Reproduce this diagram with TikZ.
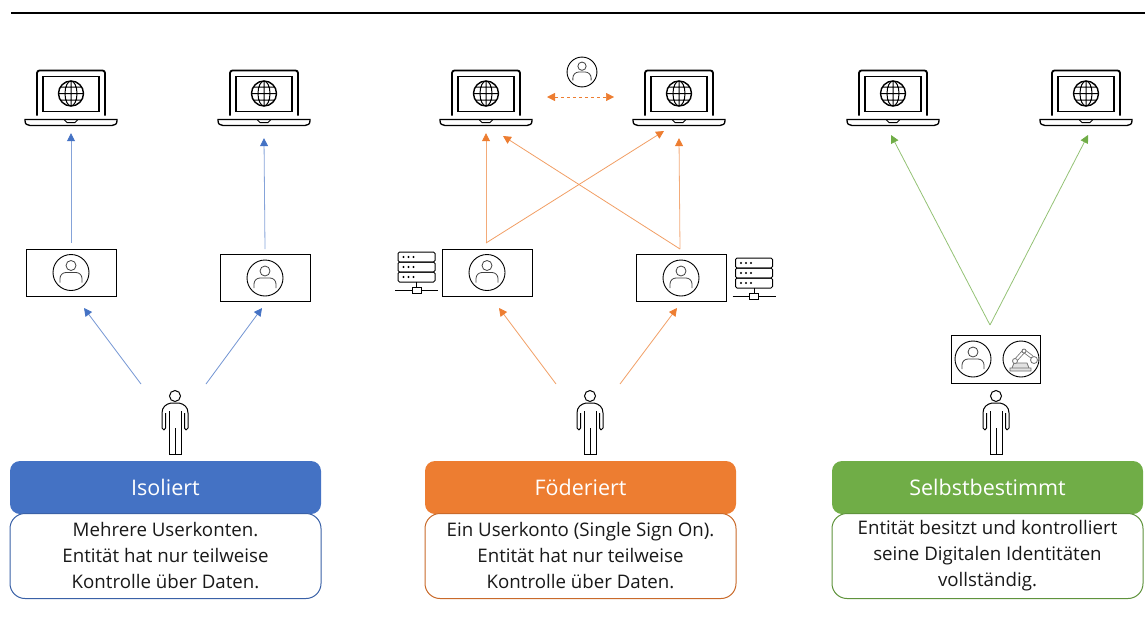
\documentclass[tikz,border=0pt]{standalone}
\usepackage{fontspec}
\setmainfont{Open Sans}
\usetikzlibrary{arrows.meta}
\definecolor{isoblue}{HTML}{4472C4}
\definecolor{fedorange}{HTML}{ED7D31}
\definecolor{ssigreen}{HTML}{70AD47}
\definecolor{icongray}{HTML}{404040}
\tikzset{
    conn/.style={#1!75, line width=0.8pt, -{Triangle[length=8pt,width=8pt,color=#1]}},
    connpale/.style={#1!65, line width=0.8pt, -{Triangle[length=8pt,width=8pt,color=#1]}},
    userbox/.style={draw, line width=0.9pt, minimum width=90pt, minimum height=47pt, inner sep=0pt},
    laptopspot/.style={minimum width=92pt, minimum height=55pt, inner sep=0pt},
    headbox/.style={rounded corners=10pt, minimum width=311pt, minimum height=53pt, inner sep=0pt,
        text=white, font=\fontsize{21.5}{24}\selectfont},
    infobox/.style={draw, rounded corners=15pt, fill=white, line width=1pt, minimum width=311pt, minimum height=85pt,
        inner sep=0pt, align=center, text=black!90, font=\fontsize{18.7}{26}\selectfont},
    laptop/.pic={
        \draw[line width=1.8pt, rounded corners=2.5pt] (-34,18) -- (-34,-27) -- (34,-27) -- (34,18);
        \draw[line width=1.7pt] (-28,-21) rectangle (28,14);
        \draw[line width=1.4pt] (0,-4) circle[radius=12.5];
        \draw[line width=1pt] (0,-4) ellipse[x radius=6, y radius=12.5] (0,-16.5) -- (0,8.5)
            (-12.5,-4) -- (12.5,-4) (-10.5,-10.5) -- (10.5,-10.5) (-10.5,2.5) -- (10.5,2.5);
        \draw[line width=1.3pt] (-46,22) -- (46,22) -- (46,23) .. controls (46,26.5) and (44,28) .. (41,28)
            -- (-41,28) .. controls (-44,28) and (-46,26.5) .. (-46,23) -- cycle;
        \draw[line width=1pt] (-7,22) -- (-4,25) -- (4,25) -- (7,22);
    },
    usericon/.pic={
        \draw[line width=0.9pt] (0,0) circle[radius=18];
        \draw[icongray, line width=0.8pt] (0,-7) circle[radius=5];
        \draw[icongray, line width=0.8pt, rounded corners=6pt] (-11,10) -- (-11,0) -- (11,0) -- (11,10);
    },
    person/.pic={
        \draw[line width=1pt] (0,-25) circle[radius=5.5];
        \draw[line width=1pt] (-11,9) -- (-13,7) -- (-13,-8) .. controls (-13,-14) and (-9,-17) .. (-4,-18) -- (4,-18)
            .. controls (9,-17) and (13,-14) .. (13,-8) -- (13,7) -- (11,9);
        \draw[line width=1pt] (-11,9) -- (-9.5,7) -- (-9.5,-8) (11,9) -- (9.5,7) -- (9.5,-8);
        \draw[line width=1pt] (-6,-10) -- (-6,33) -- (6,33) -- (6,-10) (0,7) -- (0,33);
    },
    serverrack/.pic={
        \foreach \y in {-20,-10,0}{
            \draw[line width=1pt, rounded corners=1.5pt] (-18.5,\y) rectangle (18.5,\y+10);
            \foreach \x in {-13,-8,-3}{\fill (\x,\y+5) circle[radius=1.1];}
        }
        \draw[line width=1pt] (0,10) -- (0,15) (-21.5,18) -- (-4.5,18) (4.5,18) -- (21.5,18);
        \draw[line width=1pt] (-4.5,15) rectangle (4.5,21);
    },
    robot/.pic={
        \draw[line width=0.9pt] (0,0) circle[radius=18];
        \draw[icongray!75, fill=icongray!15, line width=0.8pt] (-11,12) rectangle (10,9) (-9,9) -- (-7,4) -- (6,4) -- (8,9);
        \draw[icongray!75, double=white, double distance=2pt, line width=0.8pt, line join=round] (-6,2) -- (3,-8) -- (11,-2);
        \draw[icongray!75, fill=white, line width=0.8pt] (-6,2) circle[radius=2.5] (3,-8) circle[radius=2] (13,1) circle[radius=3.5];
    }
}
\begin{document}
\begin{tikzpicture}[x=1pt,y=-1pt]
    \useasboundingbox (0,0) rectangle (1145,637);
    \draw[line width=2pt] (11,13) -- (1145,13);

    % laptops
    \foreach \name/\x in {lapA/71,lapB/264,lapC/486,lapD/679,lapE/893,lapF/1086}{
        \node[laptopspot] (\name) at (\x,97.5) {};
        \pic at (\name) {laptop};
    }
    % account boxes
    \foreach \name/\x/\y in {boxA/71/272.5,boxB/265/278,boxC/487/272.5,boxD/681/278}{
        \node[userbox] (\name) at (\x,\y) {};
        \pic at (\name) {usericon};
    }
    \node[userbox, minimum width=89pt, minimum height=48pt] (boxE) at (996,359) {};
    \pic at (973,359) {usericon};
    \pic at (1021,359) {robot};
    \node[minimum size=30pt, inner sep=0pt] (userFed) at (582,72) {};
    \pic[scale=0.83] at (userFed) {usericon};

    \pic at (416.5,272) {serverrack};
    \pic at (754,278) {serverrack};

    % people
    \foreach \name/\x in {persA/175,persB/590,persC/996}{
        \node[minimum width=26pt, minimum height=64pt, inner sep=0pt] (\name) at (\x,421) {};
        \pic at (\name) {person};
    }

    % panels
    \foreach \name/\x/\col/\title/\info in {
        A/165.5/isoblue/Isoliert/{Mehrere Userkonten.\\Entität hat nur teilweise\\Kontrolle über Daten.},
        B/580.5/fedorange/Föderiert/{Ein Userkonto (Single Sign On).\\Entität hat nur teilweise\\Kontrolle über Daten.},
        C/987.5/ssigreen/Selbstbestimmt/{Entität besitzt und kontrolliert\\seine Digitalen Identitäten\\vollständig.}}{
        \node[headbox, fill=\col] (head\name) at (\x,487.5) {\title};
        \node[infobox, draw=\col!85!black] (info\name) at (\x,556) {\info};
    }

    % free ends of the connectors
    \coordinate (outA) at (141,384);
    \coordinate (outB) at (206,384);
    \coordinate (outC) at (556,384);
    \coordinate (outD) at (620,384);
    \coordinate (inA) at (84,308);
    \coordinate (inB) at (262,308);
    \coordinate (inC) at (499,308);
    \coordinate (inD) at (677,308);
    \coordinate (hubC) at (486,243);
    \coordinate (hubD) at (680,249);
    \coordinate (hubE) at (990,325);
    \coordinate (tipC) at (503,136);
    \coordinate (tipD) at (664,131);
    \coordinate (tipE) at (891,135);
    \coordinate (tipF) at (1088,135);
    \coordinate (dashL) at (547,97);
    \coordinate (dashR) at (614,97);

    \draw[conn=isoblue] (outA) -- (inA);
    \draw[conn=isoblue] (outB) -- (inB);
    \draw[connpale=isoblue] ([yshift=6pt]boxA.north) -- ([yshift=-8pt]lapA.south);
    \draw[connpale=isoblue] ([yshift=5pt]boxB.north) -- ([yshift=-13pt]lapB.south);

    \draw[conn=fedorange] (outC) -- (inC);
    \draw[conn=fedorange] (outD) -- (inD);
    \draw[connpale=fedorange] (hubC) -- ([yshift=-8pt]lapC.south);
    \draw[connpale=fedorange] (hubD) -- ([yshift=-13pt]lapD.south);
    \draw[conn=fedorange] (hubC) -- (tipD);
    \draw[conn=fedorange] (hubD) -- (tipC);
    \draw[fedorange, line width=0.5pt, dashed, {Triangle[length=8pt,width=8pt]}-{Triangle[length=8pt,width=8pt]}] (dashL) -- (dashR);

    \draw[conn=ssigreen] (hubE) -- (tipE);
    \draw[conn=ssigreen] (hubE) -- (tipF);
\end{tikzpicture}
\end{document}
